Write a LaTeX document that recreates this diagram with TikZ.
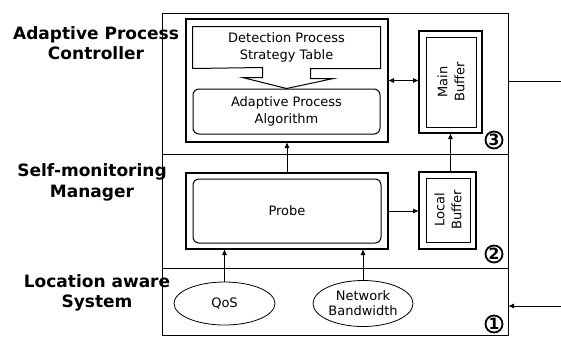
\documentclass[tikz,border=0pt]{standalone}
\usepackage{fontspec}
\setmainfont{DejaVu Sans}
\usetikzlibrary{shapes.geometric, arrows.meta}

\begin{document}
\begin{tikzpicture}[x=1pt, y=-1pt,
    layer/.style={draw, line width=.8pt, minimum width=346pt, inner sep=0pt, outer sep=0pt},
    frame/.style={draw, line width=1.4pt, inner sep=0pt, outer sep=0pt},
    inbox/.style={line width=1pt, inner sep=0pt, align=center, font=\fontsize{13}{17}\selectfont},
    head/.style={font=\fontsize{17}{20.5}\selectfont\bfseries, align=center},
    num/.style={circle, draw, line width=1.8pt, minimum size=17pt, inner sep=0pt, font=\fontsize{15.5}{15.5}\selectfont\bfseries},
    src/.style={ellipse, draw, line width=.8pt, inner sep=0pt, align=center, font=\fontsize{13}{15}\selectfont},
    link/.style={line width=1pt, -{Latex[length=6pt, width=5pt]}},
]
\useasboundingbox (0,0) rectangle (561,338);

\node[layer, minimum height=141pt] (layer3) at (335,83.5) {};
\node[layer, minimum height=114pt] (layer2) at (335,211) {};
\node[layer, minimum height=67pt] (layer1) at (335,301.5) {};

\node[head] (ctrl) at (96,43) {Adaptive Process\\Controller};
\node[head] (mgr) at (92,182.5) {Self-monitoring\\Manager};
\node[head] (las) at (97,293) {Location aware\\System};

% controller
\node[frame, minimum width=202pt, minimum height=123pt] (frame3) at (287,80.5) {};
\node[inbox, minimum width=187pt, minimum height=41pt] (det) at (286.5,47.5) {Detection Process\\Strategy Table};
\node[inbox, draw, rounded corners=6pt, minimum width=187pt, minimum height=45pt] (alg) at (286.5,111.5) {Adaptive Process\\Algorithm};
\draw[line width=1pt] (det.south west) -- (det.north west) -- (det.north east) -- (det.south east)
    -- ++(-70,0) -- ++(0,10) -- ++(23,0) -- (alg.north) -- ++(-44,-11) -- ++(20,0) -- ++(0,-10) -- cycle;

\node[frame, minimum width=63pt, minimum height=102pt] (mainbuf) at (450.5,82) {};
\node[inbox, draw, minimum width=50pt, minimum height=90pt] (mainin) at (451,82) {};
\node[inbox, rotate=90] at (mainin) {Main\\Buffer};
\node[num] (n3) at (494,140) {3};

% manager
\node[frame, minimum width=202pt, minimum height=76pt] (frame2) at (287,211) {};
\node[inbox, draw, rounded corners=6pt, minimum width=188pt, minimum height=64pt] (probe) at (287,211) {Probe};
\node[frame, minimum width=57pt, minimum height=77pt] (localbuf) at (447.5,210.5) {};
\node[inbox, draw, minimum width=44pt, minimum height=64pt] (localin) at (448,210) {};
\node[inbox, rotate=90] at (localin) {Local\\Buffer};
\node[num] (n2) at (494,254) {2};

% location aware
\node[src, minimum width=101pt, minimum height=43pt] (qos) at (224.5,303.5) {QoS};
\node[src, minimum width=100pt, minimum height=46pt] (net) at (363,303.5) {Network\\Bandwidth};
\node[num] (n1) at (494,324) {1};

\coordinate (out) at (561,81);
\coordinate (in) at (561,306);

\draw[link, {Latex[length=6pt, width=5pt]}-{Latex[length=6pt, width=5pt]}] (frame3.east) -- (mainbuf.west |- frame3.east);
\draw[link] (frame2.north) -- (frame3.south);
\draw[link] (mainbuf.south |- localbuf.north) -- (mainbuf.south);
\draw[link] (frame2.east) -- (localbuf.west |- frame2.east);
\draw[link] (qos.north) -- (qos.north |- frame2.south);
\draw[link] (net.north) -- (net.north |- frame2.south);
\draw[line width=1pt] (out -| layer3.east) -- (out);
\draw[link] (in) -- (in -| layer1.east);
\end{tikzpicture}
\end{document}
